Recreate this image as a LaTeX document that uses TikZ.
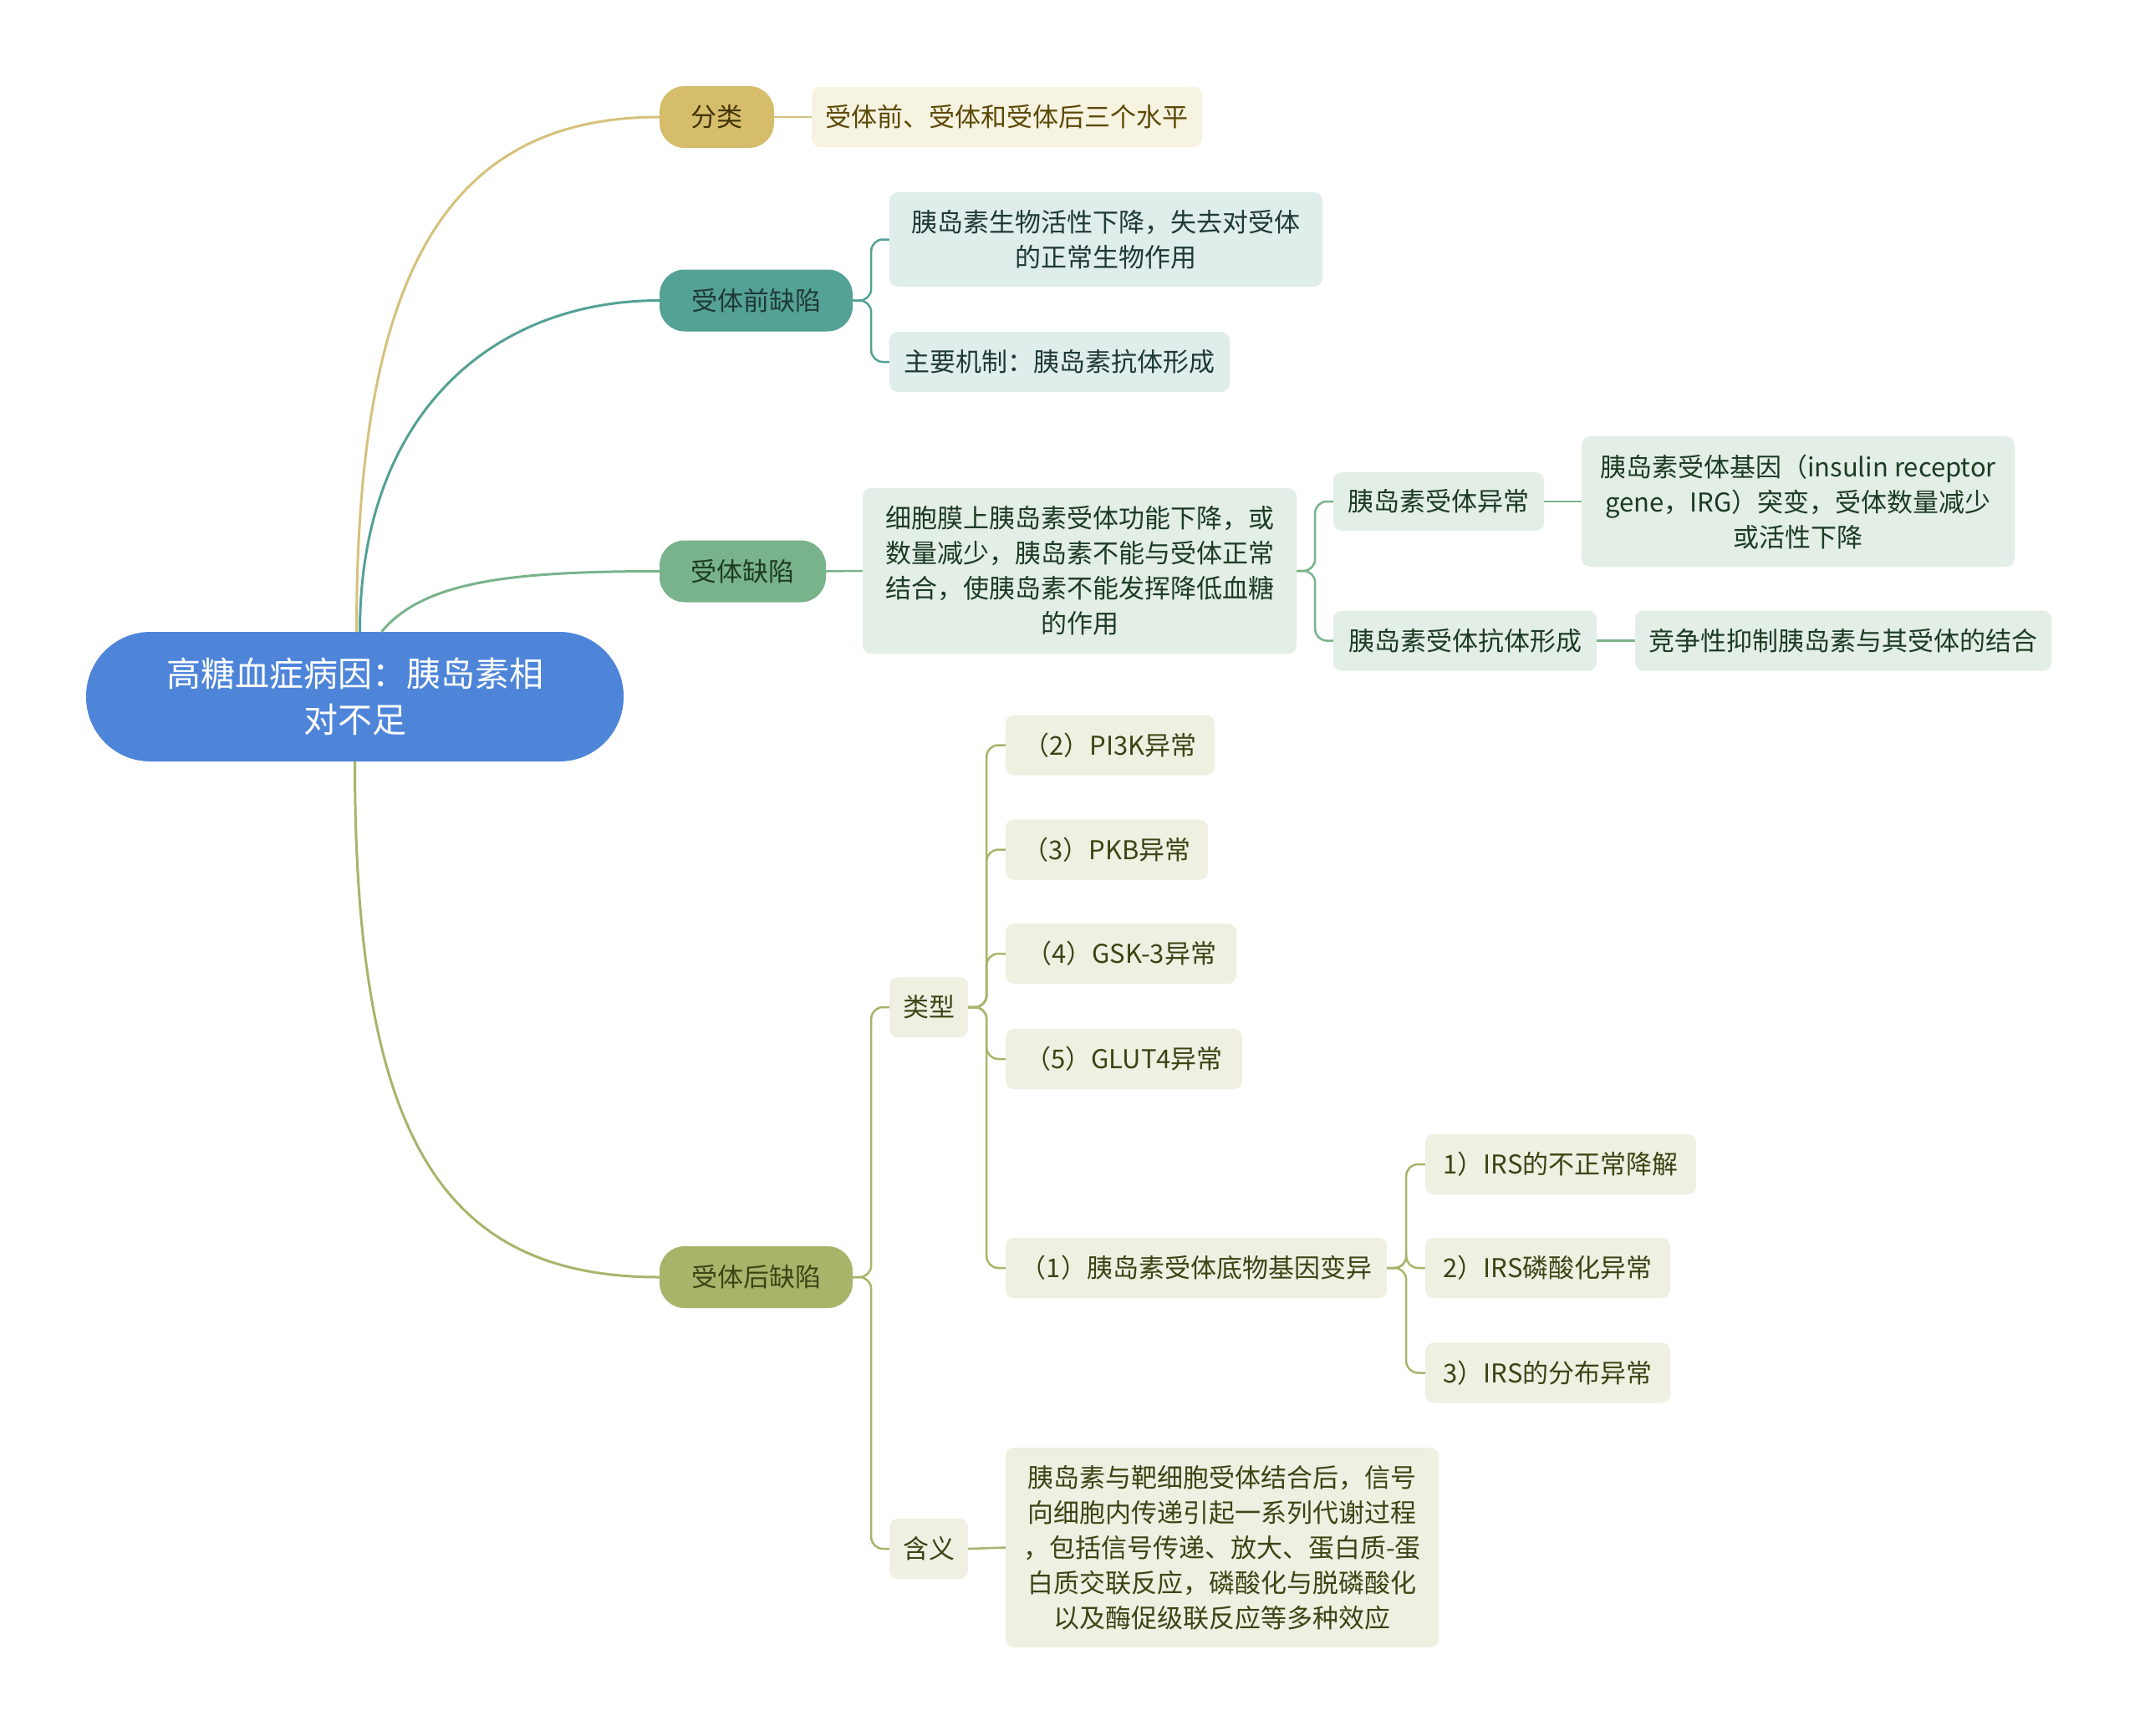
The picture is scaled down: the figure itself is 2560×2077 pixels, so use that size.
\documentclass[tikz,border=0pt]{standalone}
\usepackage{fontspec}
\setmainfont{Noto Sans CJK SC}
\definecolor{rootBlue}{HTML}{4E85D9}
\definecolor{goldFill}{HTML}{D5BD6B}
\definecolor{goldLine}{HTML}{D6C17C}
\definecolor{goldLeaf}{HTML}{F7F3E1}
\definecolor{goldText}{HTML}{5B4A05}
\definecolor{tealFill}{HTML}{54A195}
\definecolor{tealLeaf}{HTML}{DFEDEB}
\definecolor{tealText}{HTML}{1F3A36}
\definecolor{greenFill}{HTML}{79B38B}
\definecolor{greenLeaf}{HTML}{E3EEE6}
\definecolor{greenText}{HTML}{1D3B24}
\definecolor{oliveFill}{HTML}{A9B46B}
\definecolor{oliveLeaf}{HTML}{EFEFE2}
\definecolor{oliveText}{HTML}{3C4414}
\usetikzlibrary{positioning}

\begin{document}
\begin{tikzpicture}[x=1pt,y=-1pt,
  box/.style={rounded corners=10pt, inner xsep=14pt, inner ysep=0pt, align=center, font=\fontsize{31}{42}\selectfont},
  branch/.style={box, rounded corners=30pt, minimum height=74pt},
  leaf/.style={box, minimum height=72pt},
  link/.style={line width=3pt},
  sub/.style={line width=2.5pt, rounded corners=14pt}]
\fill[white] (0,0) rectangle (2560,2077);
% root
\node[fill=rootBlue, text=white, rounded corners=77pt, minimum width=643pt, minimum height=155pt, align=center, font=\fontsize{41}{55}\selectfont] (root) at (424.5,833.5) {高糖血症病因：胰岛素相\\对不足};
% 分类
\node[branch, fill=goldFill, text=goldText!70!black, minimum width=137pt] (fenlei) at (857.5,140) {分类};
\node[leaf, fill=goldLeaf, text=goldText, minimum width=467pt] (fenleiA) at (1204.5,140) {受体前、受体和受体后三个水平};
% 受体前缺陷
\node[branch, fill=tealFill, text=tealText, minimum width=231pt] (qian) at (904.5,359.5) {受体前缺陷};
\node[leaf, fill=tealLeaf, text=tealText, minimum width=518pt, minimum height=113pt] (qianA) at (1323,286.5) {胰岛素生物活性下降，失去对受体\\的正常生物作用};
\node[leaf, fill=tealLeaf, text=tealText, minimum width=407pt] (qianB) at (1267.5,433) {主要机制：胰岛素抗体形成};
% 受体缺陷
\node[branch, fill=greenFill, text=greenText, minimum width=199pt] (shouti) at (888.5,683.5) {受体缺陷};
\node[leaf, fill=greenLeaf, text=greenText, minimum width=519pt, minimum height=198pt] (shoutiA) at (1291.5,683) {细胞膜上胰岛素受体功能下降，或\\数量减少，胰岛素不能与受体正常\\结合，使胰岛素不能发挥降低血糖\\的作用};
\node[leaf, fill=greenLeaf, text=greenText, minimum width=252pt, minimum height=70pt] (yichang) at (1721,600) {胰岛素受体异常};
\node[leaf, fill=greenLeaf, text=greenText, minimum width=518pt, minimum height=156pt] (irg) at (2151,600) {胰岛素受体基因（insulin receptor\\gene，IRG）突变，受体数量减少\\或活性下降};
\node[leaf, fill=greenLeaf, text=greenText, minimum width=315pt] (kangti) at (1752.5,766.5) {胰岛素受体抗体形成};
\node[leaf, fill=greenLeaf, text=greenText, minimum width=498pt] (jingzheng) at (2205,766.5) {竞争性抑制胰岛素与其受体的结合};
% 受体后缺陷
\node[branch, fill=oliveFill, text=oliveText, minimum width=231pt] (hou) at (904.5,1528) {受体后缺陷};
\node[leaf, fill=oliveLeaf, text=oliveText, minimum width=94pt] (leixing) at (1111,1205) {类型};
\node[leaf, fill=oliveLeaf, text=oliveText, minimum width=94pt] (hanyi) at (1111,1853) {含义};
\node[leaf, fill=oliveLeaf, text=oliveText, minimum width=250pt] (pik) at (1328,891.5) {（2）PI3K异常};
\node[leaf, fill=oliveLeaf, text=oliveText, minimum width=242pt] (pkb) at (1324,1016.5) {（3）PKB异常};
\node[leaf, fill=oliveLeaf, text=oliveText, minimum width=276pt] (gsk) at (1341,1141) {（4）GSK-3异常};
\node[leaf, fill=oliveLeaf, text=oliveText, minimum width=283pt] (glut) at (1344.5,1267) {（5）GLUT4异常};
\node[leaf, fill=oliveLeaf, text=oliveText, minimum width=456pt] (jiyin) at (1431,1517) {（1）胰岛素受体底物基因变异};
\node[leaf, fill=oliveLeaf, text=oliveText, minimum width=324pt] (irsA) at (1867,1393) {1）IRS的不正常降解};
\node[leaf, fill=oliveLeaf, text=oliveText, minimum width=293pt] (irsB) at (1851.5,1517) {2）IRS磷酸化异常};
\node[leaf, fill=oliveLeaf, text=oliveText, minimum width=293pt] (irsC) at (1851.5,1642.5) {3）IRS的分布异常};
\node[leaf, fill=oliveLeaf, text=oliveText, minimum width=518pt, minimum height=239pt] (hanyiA) at (1462,1851.5) {胰岛素与靶细胞受体结合后，信号\\向细胞内传递引起一系列代谢过程\\，包括信号传递、放大、蛋白质-蛋\\白质交联反应，磷酸化与脱磷酸化\\以及酶促级联反应等多种效应};
% main branches
\draw[link, goldLine] ([xshift=2pt]root.north) .. controls +(0,-420) and +(-260,0) .. (fenlei.west);
\draw[link, tealFill] ([xshift=6pt]root.north) .. controls +(0,-260) and +(-200,0) .. (qian.west);
\draw[link, greenFill] ([xshift=32pt]root.north) .. controls +(50,-60) and +(-180,0) .. (shouti.west);
\draw[link, oliveFill] (root.south) .. controls +(0,450) and +(-260,0) .. (hou.west);
% sub connectors
\draw[sub, goldLine] (fenlei.east) -- (fenleiA.west);
\foreach \c in {qianA,qianB} \draw[sub, tealFill] (qian.east) -- ++(22,0) |- (\c.west);
\draw[sub, greenFill] (shouti.east) -- (shoutiA.west);
\foreach \c in {yichang,kangti} \draw[sub, greenFill] (shoutiA.east) -- ++(22,0) |- (\c.west);
\draw[sub, greenFill] (yichang.east) -- (irg.west);
\draw[sub, greenFill] (kangti.east) -- (jingzheng.west);
\foreach \c in {leixing,hanyi} \draw[sub, oliveFill] (hou.east) -- ++(22,0) |- (\c.west);
\foreach \c in {pik,pkb,gsk,glut,jiyin} \draw[sub, oliveFill] (leixing.east) -- ++(22,0) |- (\c.west);
\foreach \c in {irsA,irsB,irsC} \draw[sub, oliveFill] (jiyin.east) -- ++(23,0) |- (\c.west);
\draw[sub, oliveFill] (hanyi.east) -- (hanyiA.west);
\end{tikzpicture}
\end{document}
